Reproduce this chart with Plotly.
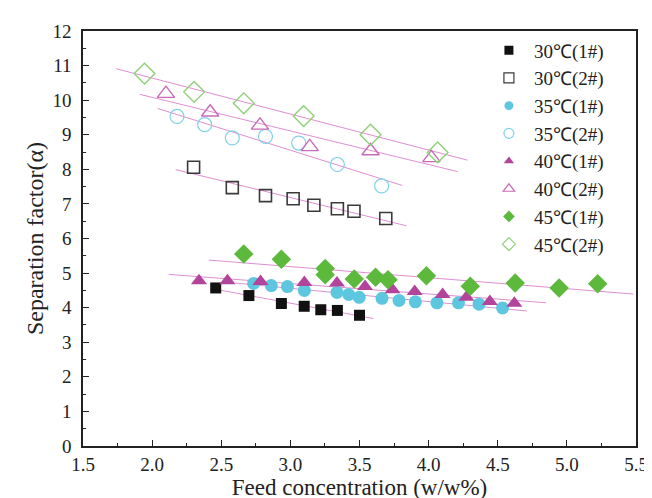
import numpy as np
import plotly.graph_objects as go

# ---------------- data ----------------
names = ["30℃(1#)", "30℃(2#)", "35℃(1#)", "35℃(2#)",
         "40℃(1#)", "40℃(2#)", "45℃(1#)", "45℃(2#)"]

x30_1 = [2.46, 2.70, 2.935, 3.10, 3.22, 3.34, 3.50]
y30_1 = [4.57, 4.35, 4.12, 4.04, 3.94, 3.92, 3.78]

x30_2 = [2.30, 2.58, 2.82, 3.02, 3.17, 3.34, 3.46, 3.69]
y30_2 = [8.06, 7.47, 7.24, 7.15, 6.96, 6.86, 6.79, 6.58]

x35_1 = [2.734, 2.862, 2.979, 3.101, 3.337, 3.422, 3.498, 3.663, 3.786, 3.904, 4.060, 4.216, 4.365, 4.535]
y35_1 = [4.70, 4.64, 4.61, 4.50, 4.44, 4.38, 4.30, 4.27, 4.21, 4.17, 4.14, 4.14, 4.10, 3.99]

x35_2 = [2.18, 2.38, 2.58, 2.82, 3.06, 3.34, 3.66]
y35_2 = [9.53, 9.29, 8.91, 8.95, 8.76, 8.14, 7.52]

x40_1 = [2.339, 2.545, 2.784, 3.101, 3.337, 3.540, 3.739, 3.899, 4.101, 4.273, 4.443, 4.620]
y40_1 = [4.78, 4.78, 4.76, 4.73, 4.71, 4.61, 4.52, 4.47, 4.38, 4.30, 4.18, 4.13]

x40_2 = [2.10, 2.42, 2.78, 3.14, 3.58, 4.02]
y40_2 = [10.19, 9.65, 9.27, 8.65, 8.53, 8.33]

x45_1 = [2.663, 2.935, 3.252, 3.252, 3.462, 3.616, 3.706, 3.984, 4.301, 4.626, 4.944, 5.223]
y45_1 = [5.55, 5.40, 5.13, 4.95, 4.83, 4.88, 4.81, 4.92, 4.62, 4.71, 4.57, 4.69]

x45_2 = [1.945, 2.304, 2.663, 3.096, 3.58, 4.065]
y45_2 = [10.77, 10.24, 9.91, 9.54, 9.00, 8.49]

# x-extent of each linear fit line
fit_ranges = [(2.42, 3.60), (2.17, 3.84), (2.60, 4.71), (2.04, 3.81),
              (2.12, 4.85), (1.91, 4.21), (2.41, 5.48), (1.74, 4.28)]

xs = [x30_1, x30_2, x35_1, x35_2, x40_1, x40_2, x45_1, x45_2]
ys = [y30_1, y30_2, y35_1, y35_2, y40_1, y40_2, y45_1, y45_2]

x_ticks = [1.5, 2.0, 2.5, 3.0, 3.5, 4.0, 4.5, 5.0, 5.5]
y_ticks = list(range(0, 13))

# ---------------- styles ----------------
styles = [
    dict(symbol="square", size=11, color="#111111", line=dict(width=0)),
    dict(symbol="square-open", size=12, color="#3a3a3a", line=dict(width=1.6)),
    dict(symbol="circle", size=13, color="#5cc7de", line=dict(width=0)),
    dict(symbol="circle-open", size=14, color="#7fd2e8", line=dict(width=1.2)),
    dict(symbol="triangle-up", size=14, color="#b2449c", line=dict(width=0)),
    dict(symbol="triangle-up-open", size=15, color="#c86bb8", line=dict(width=1.4)),
    dict(symbol="diamond", size=15, color="#5cb93b", line=dict(width=0)),
    dict(symbol="diamond-open", size=16, color="#8fd078", line=dict(width=1.4)),
]
fit_color = "#e08ed3"
font_family = "Liberation Serif, Times New Roman, serif"
axis_color = "#222222"

fig = go.Figure()

# fit lines
for (x, y), (x0, x1) in zip(zip(xs, ys), fit_ranges):
    k, b = np.polyfit(x, y, 1)
    lx = np.array([x0, x1])
    fig.add_trace(go.Scatter(x=lx, y=k * lx + b, mode="lines",
                             line=dict(color=fit_color, width=1),
                             showlegend=False, hoverinfo="skip"))

# data markers
for name, x, y, st in zip(names, xs, ys, styles):
    fig.add_trace(go.Scatter(x=x, y=y, mode="markers", name=name,
                             marker=st, showlegend=False))

# legend entries (smaller symbols, as in the reference)
for name, st in zip(names, styles):
    lst = dict(st)
    lst["size"] = 9 if "open" not in st["symbol"] else 10
    lst["line"] = dict(width=1.2) if "open" in st["symbol"] else dict(width=0)
    fig.add_trace(go.Scatter(x=[None], y=[None], mode="markers", name=name,
                             marker=lst, legendgroup=name))

common_axis = dict(
    showline=True, linecolor=axis_color, linewidth=1.5, mirror=True,
    showgrid=False, zeroline=False,
    ticks="inside", ticklen=6, tickwidth=1.3, tickcolor=axis_color,
    tickfont=dict(family=font_family, size=19, color=axis_color),
)

fig.update_layout(
    width=652, height=498,
    paper_bgcolor="white", plot_bgcolor="white",
    margin=dict(l=75, r=13, t=23, b=56),
    font=dict(family=font_family, color=axis_color),
    xaxis=dict(range=[1.5, 5.5], tickvals=x_ticks,
               ticktext=[f"{v:.1f}" for v in x_ticks],
               minor=dict(ticks="inside", ticklen=3, dtick=0.25, tick0=1.5,
                          tickcolor=axis_color, tickwidth=1.2),
               title=dict(text="Feed concentration (w/w%)", standoff=3,
                          font=dict(family=font_family, size=23, color=axis_color)),
               **common_axis),
    yaxis=dict(range=[0, 12], tickvals=y_ticks, ticklabelstandoff=6,
               minor=dict(ticks="inside", ticklen=3, dtick=0.5, tick0=0,
                          tickcolor=axis_color, tickwidth=1.2),
               title=dict(text="Separation factor(α)", standoff=2,
                          font=dict(family=font_family, size=24, color=axis_color)),
               **common_axis),
    legend=dict(x=0.725, y=0.999, xanchor="left", yanchor="top",
                bgcolor="rgba(0,0,0,0)", borderwidth=0,
                font=dict(family=font_family, size=19, color=axis_color),
                itemwidth=40, tracegroupgap=0),
)

fig.write_html("out.html")
